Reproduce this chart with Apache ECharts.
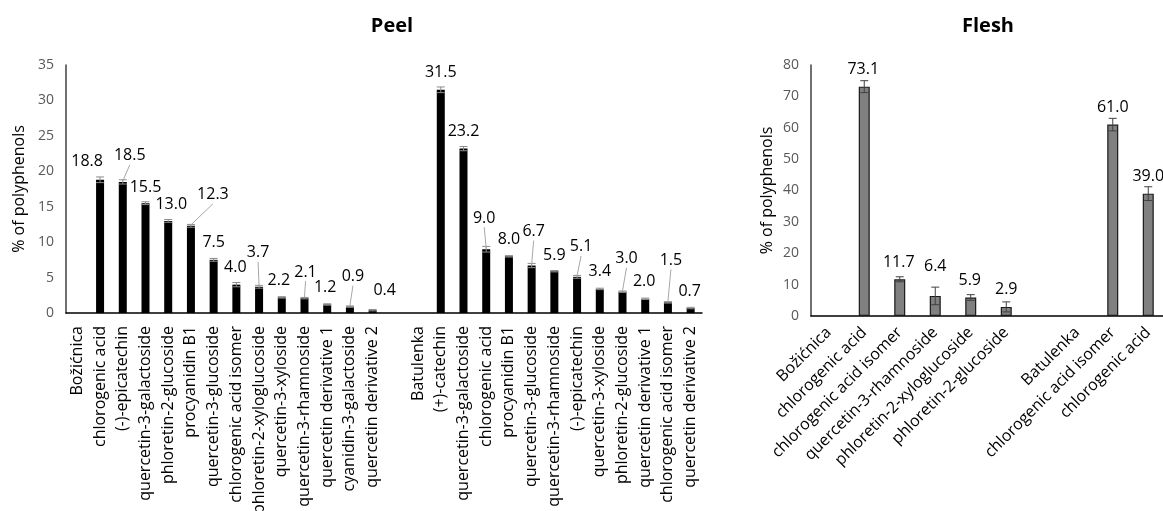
<!DOCTYPE html>
<html>
<head>
<meta charset="utf-8">
<script src="https://cdn.jsdelivr.net/npm/echarts@6/dist/echarts.min.js"></script>
<style>html,body{margin:0;padding:0;background:#fff;}#c{width:1163px;height:511px;}</style>
</head>
<body>
<div id="c"></div>
<script>
// ---- data ----
const peelCategories = ['Božićnica','chlorogenic acid','(-)-epicatechin','quercetin-3-galactoside','phloretin-2-glucoside','procyanidin B1','quercetin-3-glucoside','chlorogenic acid isomer','phloretin-2-xyloglucoside','quercetin-3-xyloside','quercetin-3-rhamnoside','quercetin derivative 1','cyanidin-3-galactoside','quercetin derivative 2','','Batulenka','(+)-catechin','quercetin-3-galactoside','chlorogenic acid','procyanidin B1','quercetin-3-glucoside','quercetin-3-rhamnoside','(-)-epicatechin','quercetin-3-xyloside','phloretin-2-glucoside','quercetin derivative 1','chlorogenic acid isomer','quercetin derivative 2'];
const peelValues = [null,18.8,18.5,15.5,13.0,12.3,7.5,4.0,3.7,2.2,2.1,1.2,0.9,0.4,null,null,31.5,23.2,9.0,8.0,6.7,5.9,5.1,3.4,3.0,2.0,1.5,0.7];
const peelErrors = [null,0.4,0.3,0.2,0.2,0.2,0.2,0.3,0.2,0.1,0.1,0.1,0.1,0.1,null,null,0.4,0.3,0.4,0.1,0.3,0.1,0.2,0.1,0.1,0.1,0.1,0.1];
const peelTicks = [0,5,10,15,20,25,30,35];

const fleshCategories = ['Božićnica','chlorogenic acid','chlorogenic acid isomer','quercetin-3-rhamnoside','phloretin-2-xyloglucoside','phloretin-2-glucoside','','Batulenka','chlorogenic acid isomer','chlorogenic acid'];
const fleshValues = [null,73.1,11.7,6.4,5.9,2.9,null,null,61.0,39.0];
const fleshErrors = [null,1.9,0.8,2.8,0.9,1.6,null,null,2.0,2.2];
const fleshTicks = [0,10,20,30,40,50,60,70,80];

// label placement (pixel offsets from bar top: dx, dy, leader line)
const peelLabelOffsets = [null,[-13,-18,0],[7,-26,1],[0,-16,0],[3,-16,0],[22,-31,1],[0,-17,0],[-1,-17,0],[-1,-34,1],[-3,-17,0],[1,-26,1],[-2,-17,0],[3,-30,1],[12,-20,0],null,null,[0,-17,0],[0,-17,0],[-2,-31,1],[0,-17,0],[2,-34,1],[0,-16,0],[4,-30,1],[0,-17,0],[4,-33,1],[-1,-17,0],[3,-42,1],[-1,-17,0]];
const fleshLabelOffsets = [null,[-1,-17,0],[-1,-17,0],[0,-29,0],[-1,-17,0],[0,-17,0],null,null,[0,-17,0],[0,-17,0]];

const FONT = '"Open Sans", sans-serif';

function labelRender(offsets) {
  return function (params, api) {
    const i = api.value(0), v = api.value(1);
    const p = api.coord([i, v]);
    const o = offsets[i];
    const tx = p[0] + o[0], ty = p[1] + o[1];
    const children = [];
    if (o[2]) {
      children.push({type:'line', shape:{x1:p[0], y1:p[1]-1, x2:tx, y2:ty+9}, style:{stroke:'#a6a6a6', lineWidth:1}});
    }
    children.push({type:'text', style:{text:v.toFixed(1), x:tx, y:ty, align:'center', verticalAlign:'middle', fontSize:16, fontFamily:FONT, fill:'#000'}});
    return {type:'group', children};
  };
}
function errRender(color, cap) {
  return function (params, api) {
    const i = api.value(0), v = api.value(1), e = api.value(2);
    const hi = api.coord([i, v + e]), lo = api.coord([i, v - e]);
    const x = hi[0];
    return {type:'group', children:[
      {type:'line', shape:{x1:x, y1:hi[1], x2:x, y2:lo[1]}, style:{stroke:color, lineWidth:1}},
      {type:'line', shape:{x1:x-cap, y1:hi[1], x2:x+cap, y2:hi[1]}, style:{stroke:color, lineWidth:1}},
      {type:'line', shape:{x1:x-cap, y1:lo[1], x2:x+cap, y2:lo[1]}, style:{stroke:color, lineWidth:1}}
    ]};
  };
}
function pts(values, errors) {
  const out = [];
  values.forEach((v, i) => { if (v != null) out.push([i, v, errors[i]]); });
  return out;
}

const chart = echarts.init(document.getElementById('c'), null, {renderer:'canvas'});
const axisLabelY = {color:'#595959', fontSize:14, fontFamily:FONT, margin:12};
chart.setOption({
  animation:false,
  title:[
    {text:'Peel', left:387, top:11, textAlign:'center', textStyle:{fontSize:20, fontWeight:'bold', fontFamily:FONT, color:'#000'}},
    {text:'Flesh', left:983, top:11, textAlign:'center', textStyle:{fontSize:20, fontWeight:'bold', fontFamily:FONT, color:'#000'}}
  ],
  grid:[
    {left:66, top:65, width:636, height:248, outerBoundsMode:'none', containLabel:false},
    {left:811, top:65, width:355, height:251, outerBoundsMode:'none', containLabel:false}
  ],
  xAxis:[
    {type:'category', gridIndex:0, data:peelCategories, axisTick:{show:false},
     axisLine:{lineStyle:{color:'#000', width:1.5}},
     axisLabel:{interval:0, rotate:90, margin:13, fontSize:16, fontFamily:FONT, color:'#000'}},
    {type:'category', gridIndex:1, data:fleshCategories, axisTick:{show:false},
     axisLine:{lineStyle:{color:'#000', width:1.5}},
     axisLabel:{interval:0, rotate:45, margin:14, fontSize:16, fontFamily:FONT, color:'#000'}}
  ],
  yAxis:[
    {type:'value', gridIndex:0, min:peelTicks[0], max:peelTicks[peelTicks.length-1], interval:5,
     splitLine:{show:false}, axisTick:{show:false},
     axisLine:{show:true, lineStyle:{color:'#404040', width:1.5}},
     axisLabel:axisLabelY,
     name:'% of polyphenols', nameLocation:'middle', nameGap:38, nameRotate:90,
     nameTextStyle:{fontSize:16, fontFamily:FONT, color:'#000'}},
    {type:'value', gridIndex:1, min:fleshTicks[0], max:fleshTicks[fleshTicks.length-1], interval:10,
     splitLine:{show:false}, axisTick:{show:false},
     axisLine:{show:true, lineStyle:{color:'#404040', width:1.5}},
     axisLabel:axisLabelY,
     name:'% of polyphenols', nameLocation:'middle', nameGap:36, nameRotate:90,
     nameTextStyle:{fontSize:16, fontFamily:FONT, color:'#000'}}
  ],
  series:[
    {type:'bar', xAxisIndex:0, yAxisIndex:0, data:peelValues, barWidth:8,
     itemStyle:{color:'#000'}},
    {type:'custom', xAxisIndex:0, yAxisIndex:0, data:pts(peelValues, peelErrors), encode:{x:0,y:1},
     renderItem:errRender('#8c8c8c', 4), z:3},
    {type:'custom', xAxisIndex:0, yAxisIndex:0, data:pts(peelValues, peelErrors), encode:{x:0,y:1},
     renderItem:labelRender(peelLabelOffsets), z:4, clip:false},
    {type:'bar', xAxisIndex:1, yAxisIndex:1, data:fleshValues, barWidth:11,
     itemStyle:{color:'#808080', borderColor:'#1a1a1a', borderWidth:1.2}},
    {type:'custom', xAxisIndex:1, yAxisIndex:1, data:pts(fleshValues, fleshErrors), encode:{x:0,y:1},
     renderItem:errRender('#404040', 4), z:3},
    {type:'custom', xAxisIndex:1, yAxisIndex:1, data:pts(fleshValues, fleshErrors), encode:{x:0,y:1},
     renderItem:labelRender(fleshLabelOffsets), z:4, clip:false}
  ]
});
</script>
</body>
</html>
